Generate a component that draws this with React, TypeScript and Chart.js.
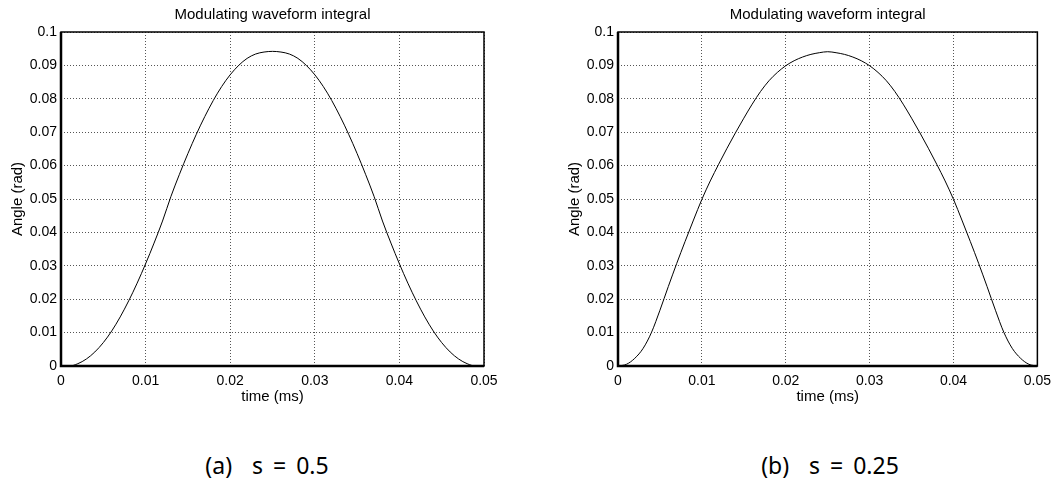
import React, { useEffect, useRef } from "react";
import { Chart, registerables } from "chart.js";

Chart.register(...registerables);

// ---- data ----
const chartTitle = "Modulating waveform integral";
const xAxisTitle = "time (ms)";
const yAxisTitle = "Angle (rad)";
const captionA = "(a)  s = 0.5";
const captionB = "(b)  s = 0.25";

const xTickLabels = ["0", "0.01", "0.02", "0.03", "0.04", "0.05"];
const yTickLabels = ["0", "0.01", "0.02", "0.03", "0.04", "0.05", "0.06", "0.07", "0.08", "0.09", "0.1"];

const timeMs = [
  0, 0.001, 0.002, 0.003, 0.004, 0.005, 0.006, 0.007, 0.008, 0.009,
  0.01, 0.011, 0.012, 0.013, 0.014, 0.015, 0.016, 0.017, 0.018, 0.019,
  0.02, 0.021, 0.022, 0.023, 0.024, 0.025, 0.026, 0.027, 0.028, 0.029,
  0.03, 0.031, 0.032, 0.033, 0.034, 0.035, 0.036, 0.037, 0.038, 0.039,
  0.04, 0.041, 0.042, 0.043, 0.044, 0.045, 0.046, 0.047, 0.048, 0.049,
  0.05,
];

// (a) s = 0.5
const angleA = [
  0, 0, 0.0007, 0.0021, 0.0042, 0.007, 0.0105, 0.0147, 0.0195, 0.0248,
  0.0306, 0.0368, 0.0434, 0.0508, 0.0574, 0.0636, 0.0694, 0.0747, 0.0795, 0.0837,
  0.0872, 0.09, 0.0921, 0.0934, 0.0940, 0.0942, 0.0940, 0.0934, 0.0921, 0.09,
  0.0872, 0.0837, 0.0795, 0.0747, 0.0694, 0.0636, 0.0574, 0.0508, 0.0434, 0.0368,
  0.0306, 0.0248, 0.0195, 0.0147, 0.0105, 0.007, 0.0042, 0.0021, 0.0007, 0,
  0,
];

// (b) s = 0.25
const angleB = [
  0, 0.0005, 0.0023, 0.0053, 0.0101, 0.0167, 0.0238, 0.0307, 0.0373, 0.0437,
  0.0499, 0.0554, 0.0604, 0.0652, 0.0698, 0.0742, 0.0784, 0.0822, 0.0854, 0.0879,
  0.0899, 0.0914, 0.0925, 0.0933, 0.0938, 0.0941, 0.0938, 0.0933, 0.0925, 0.0914,
  0.0899, 0.0879, 0.0854, 0.0822, 0.0784, 0.0742, 0.0698, 0.0652, 0.0604, 0.0554,
  0.0499, 0.0437, 0.0373, 0.0307, 0.0238, 0.0167, 0.0101, 0.0053, 0.0023, 0.0005,
  0,
];

const FONT = "'Liberation Sans', Arial, sans-serif";

const boxPlugin = {
  id: "axesBox",
  afterDraw(chart: any) {
    const { ctx, chartArea } = chart;
    const { left, right, top, bottom } = chartArea;
    ctx.save();
    ctx.strokeStyle = "#000";
    ctx.setLineDash([]);
    ctx.lineWidth = 1.5;
    ctx.strokeRect(left, top, right - left, bottom - top);
    ctx.lineWidth = 2.5;
    ctx.beginPath();
    ctx.moveTo(left, top);
    ctx.lineTo(left, bottom);
    ctx.lineTo(right, bottom);
    ctx.stroke();
    ctx.restore();
  },
};

function makeConfig(times: number[], angles: number[], rightPad: number): any {
  return {
    type: "line",
    data: {
      datasets: [
        {
          data: times.map((t, i) => ({ x: t, y: angles[i] })),
          borderColor: "#000",
          borderWidth: 1,
          pointRadius: 0,
          fill: false,
          cubicInterpolationMode: "monotone",
        },
      ],
    },
    options: {
      animation: false,
      responsive: false,
      maintainAspectRatio: false,
      layout: { padding: { top: 5.5, left: 0, right: rightPad, bottom: 0 } },
      plugins: {
        legend: { display: false },
        tooltip: { enabled: false },
        title: {
          display: true,
          text: chartTitle,
          fullSize: false,
          color: "#000",
          font: { family: FONT, size: 15, weight: "normal" },
          padding: { top: 0, bottom: 8.5 },
        },
      },
      scales: {
        x: {
          type: "linear",
          min: 0,
          max: 0.05,
          ticks: {
            stepSize: 0.01,
            autoSkip: false,
            maxRotation: 0,
            padding: 7,
            color: "#000",
            font: { family: FONT, size: 14 },
            callback: (_v: any, i: number) => xTickLabels[i],
          },
          grid: { color: "#555", lineWidth: 1, drawTicks: false },
          border: { display: false, dash: [1, 2] },
          title: {
            display: true,
            text: xAxisTitle,
            color: "#000",
            font: { family: FONT, size: 15 },
            padding: { top: 0, bottom: 14 },
          },
          afterFit: (s: any) => {
            s.height = 54;
          },
        },
        y: {
          type: "linear",
          min: 0,
          max: 0.1,
          ticks: {
            stepSize: 0.01,
            autoSkip: false,
            padding: 4,
            color: "#000",
            font: { family: FONT, size: 14 },
            callback: (_v: any, i: number) => yTickLabels[i],
          },
          grid: { color: "#555", lineWidth: 1, drawTicks: false },
          border: { display: false, dash: [1, 2] },
          title: {
            display: true,
            text: yAxisTitle,
            color: "#000",
            font: { family: FONT, size: 15 },
            padding: { top: 9, bottom: 0 },
          },
          afterFit: (s: any) => {
            s.width = 61;
          },
        },
      },
    },
    plugins: [boxPlugin],
  };
}

function ChartCanvas(props: { times: number[]; angles: number[]; left: number; width: number; rightPad: number }) {
  const ref = useRef<HTMLCanvasElement | null>(null);
  useEffect(() => {
    if (!ref.current) return;
    const chart = new Chart(ref.current, makeConfig(props.times, props.angles, props.rightPad));
    return () => chart.destroy();
  }, []);
  return (
    <canvas
      ref={ref}
      width={props.width}
      height={420}
      style={{ position: "absolute", left: props.left, top: 0, width: props.width, height: 420 }}
    />
  );
}

const captionStyle: React.CSSProperties = {
  position: "absolute",
  top: 450,
  fontFamily: "'Noto Sans', sans-serif",
  fontSize: 23,
  lineHeight: "30px",
  wordSpacing: 4,
  color: "#000",
  textAlign: "center",
  whiteSpace: "pre",
};

export default function App() {
  return (
    <div
      style={{
        position: "absolute",
        left: 0,
        top: 0,
        width: 1058,
        height: 482,
        overflow: "hidden",
        background: "#fff",
      }}
    >
      <ChartCanvas times={timeMs} angles={angleA} left={0} width={530} rightPad={46} />
      <ChartCanvas times={timeMs} angles={angleB} left={557} width={501} rightPad={16} />
      <div style={{ ...captionStyle, left: 167, width: 200 }}>{captionA}</div>
      <div style={{ ...captionStyle, left: 730, width: 200 }}>{captionB}</div>
    </div>
  );
}
